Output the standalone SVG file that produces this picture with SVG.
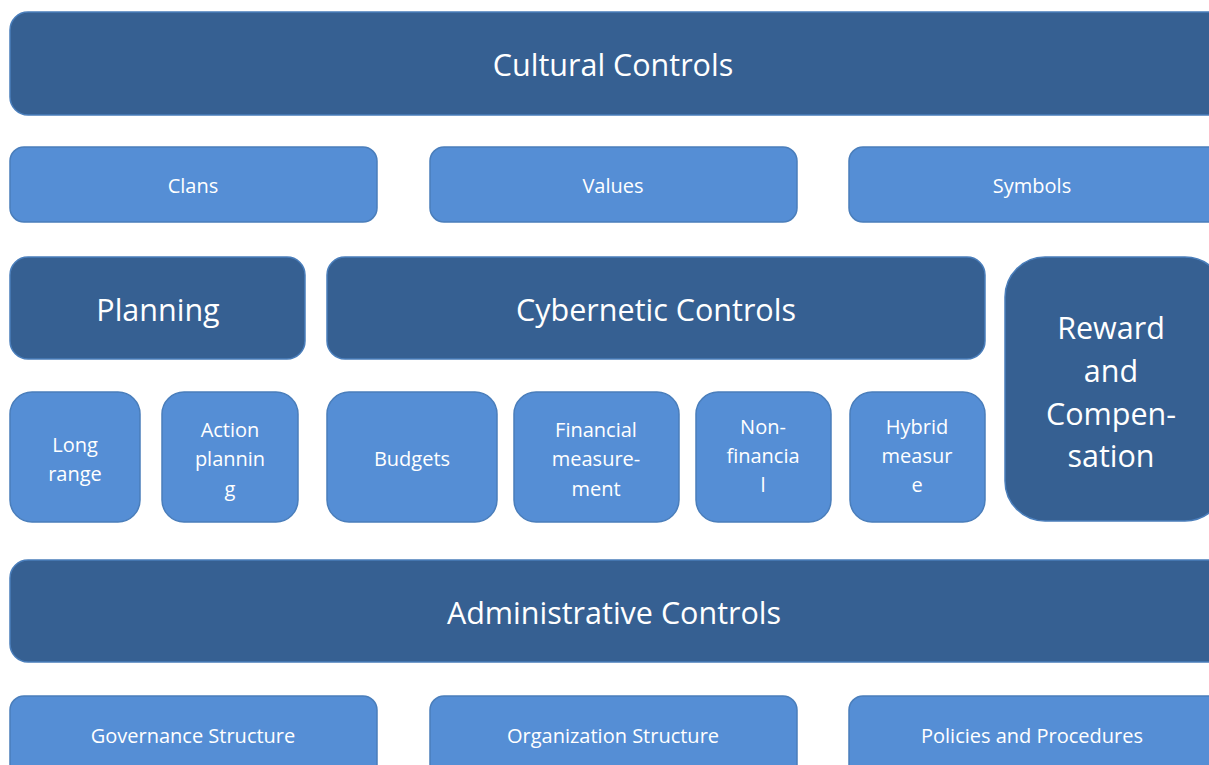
<svg xmlns="http://www.w3.org/2000/svg" width="1209" height="765" viewBox="0 0 1209 765">
  <style>
    .dark { fill: #366092; stroke: #4a7ebb; stroke-width: 1.5; }
    .light { fill: #558ed5; stroke: #4a7ebb; stroke-width: 1.5; }
    text { font-family: "Open Sans", "Liberation Sans", sans-serif; fill: #ffffff; text-anchor: middle; dominant-baseline: central; }
    .big { font-size: 30.5px; }
    .small { font-size: 20px; }
  </style>
  <rect width="1209" height="765" fill="#ffffff"/>

  <g id="cultural-controls">
    <rect class="dark" x="10" y="12" width="1215" height="103" rx="18"/>
    <text class="big" x="613" y="64">Cultural Controls</text>
  </g>
  <g id="clans">
    <rect class="light" x="10" y="147" width="367" height="75" rx="14"/>
    <text class="small" x="193" y="185">Clans</text>
  </g>
  <g id="values">
    <rect class="light" x="430" y="147" width="367" height="75" rx="14"/>
    <text class="small" x="613" y="185">Values</text>
  </g>
  <g id="symbols">
    <rect class="light" x="849" y="147" width="380" height="75" rx="14"/>
    <text class="small" x="1032" y="185">Symbols</text>
  </g>

  <g id="planning">
    <rect class="dark" x="10" y="257" width="295" height="102" rx="18"/>
    <text class="big" x="158" y="309">Planning</text>
  </g>
  <g id="cybernetic-controls">
    <rect class="dark" x="327" y="257" width="658" height="102" rx="18"/>
    <text class="big" x="656" y="309">Cybernetic Controls</text>
  </g>
  <g id="reward-compensation">
    <rect class="dark" x="1005" y="257" width="220" height="264" rx="40"/>
    <text class="big" x="1111" y="327">Reward</text>
    <text class="big" x="1111" y="370">and</text>
    <text class="big" x="1111" y="413">Compen-</text>
    <text class="big" x="1111" y="455">sation</text>
  </g>

  <g id="long-range">
    <rect class="light" x="10" y="392" width="130" height="130" rx="22"/>
    <text class="small" x="75" y="444">Long</text>
    <text class="small" x="75" y="473">range</text>
  </g>
  <g id="action-planning">
    <rect class="light" x="162" y="392" width="136" height="130" rx="22"/>
    <text class="small" x="230" y="429">Action</text>
    <text class="small" x="230" y="458">plannin</text>
    <text class="small" x="230" y="488">g</text>
  </g>
  <g id="budgets">
    <rect class="light" x="327" y="392" width="170" height="130" rx="22"/>
    <text class="small" x="412" y="458">Budgets</text>
  </g>
  <g id="financial-measurement">
    <rect class="light" x="514" y="392" width="165" height="130" rx="22"/>
    <text class="small" x="596" y="429">Financial</text>
    <text class="small" x="596" y="458">measure-</text>
    <text class="small" x="596" y="488">ment</text>
  </g>
  <g id="non-financial">
    <rect class="light" x="696" y="392" width="135" height="130" rx="22"/>
    <text class="small" x="763" y="426">Non-</text>
    <text class="small" x="763" y="455">financia</text>
    <text class="small" x="763" y="484">l</text>
  </g>
  <g id="hybrid-measure">
    <rect class="light" x="850" y="392" width="135" height="130" rx="22"/>
    <text class="small" x="917" y="426">Hybrid</text>
    <text class="small" x="917" y="455">measur</text>
    <text class="small" x="917" y="484">e</text>
  </g>

  <g id="administrative-controls">
    <rect class="dark" x="10" y="560" width="1215" height="102" rx="18"/>
    <text class="big" x="614" y="612">Administrative Controls</text>
  </g>
  <g id="governance-structure">
    <rect class="light" x="10" y="696" width="367" height="90" rx="14"/>
    <text class="small" x="193" y="735">Governance Structure</text>
  </g>
  <g id="organization-structure">
    <rect class="light" x="430" y="696" width="367" height="90" rx="14"/>
    <text class="small" x="613" y="735">Organization Structure</text>
  </g>
  <g id="policies-procedures">
    <rect class="light" x="849" y="696" width="380" height="90" rx="14"/>
    <text class="small" x="1032" y="735">Policies and Procedures</text>
  </g>

  <g id="connectors"></g>
</svg>
